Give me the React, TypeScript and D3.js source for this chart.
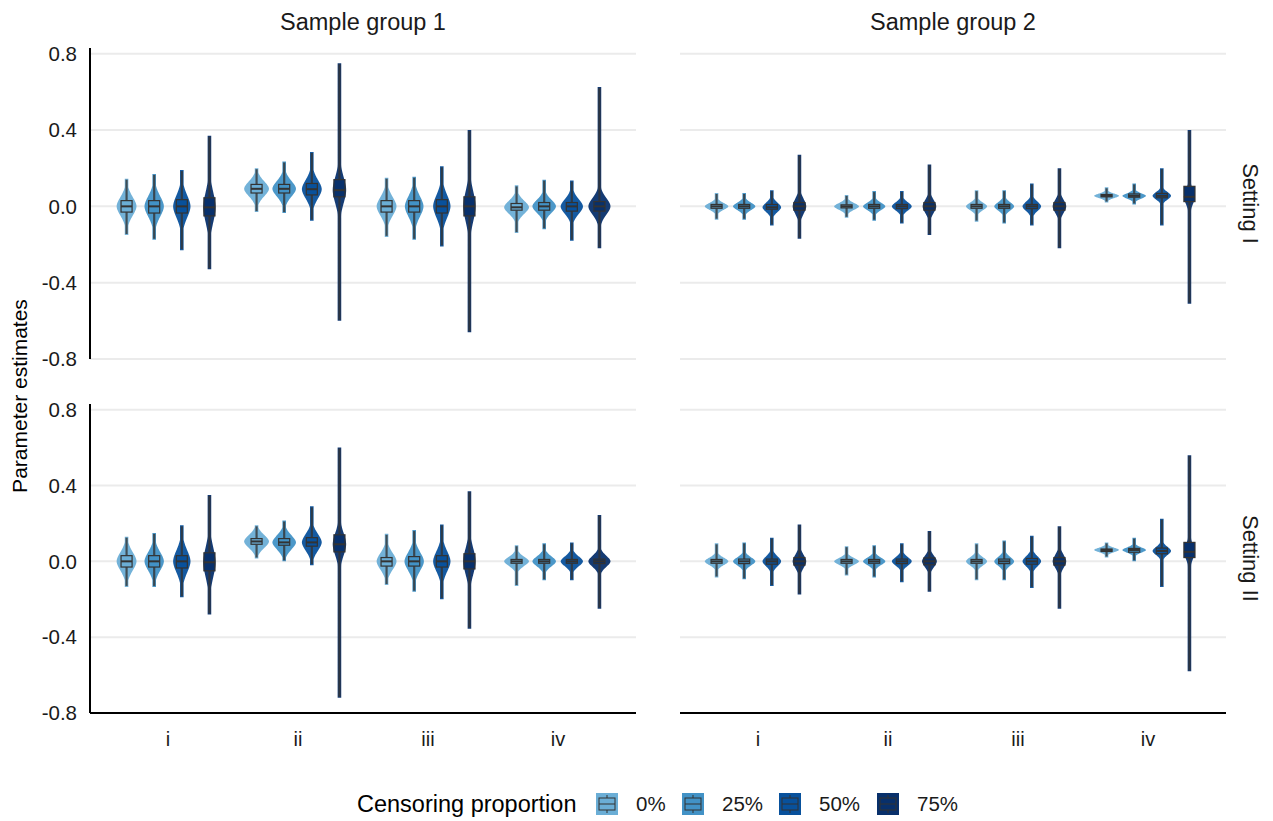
import React from 'react';
import * as d3 from 'd3';

// each violin: [median, q1, q3, low, high, spread, density]
type Stat = [number, number, number, number, number, number, number];

const categories = ['i', 'ii', 'iii', 'iv'];
const censoring = ['0%', '25%', '50%', '75%'];
const colors = ['#6baed6', '#4292c6', '#08519c', '#08306b'];
const yTicks = [-0.8, -0.4, 0, 0.4, 0.8];
const groups = ['Sample group 1', 'Sample group 2'];
const settings = ['Setting I', 'Setting II'];

const settingIGroup1: Stat[] = [
  [0, -0.03, 0.03, -0.15, 0.145, 0.05, 0.8],
  [0, -0.035, 0.03, -0.175, 0.17, 0.055, 0.78],
  [0, -0.035, 0.035, -0.23, 0.19, 0.06, 0.7],
  [-0.005, -0.05, 0.045, -0.33, 0.37, 0.08, 0.5],
  [0.092, 0.07, 0.115, -0.03, 0.2, 0.04, 1.0],
  [0.092, 0.07, 0.115, -0.035, 0.235, 0.042, 0.95],
  [0.09, 0.06, 0.12, -0.075, 0.285, 0.05, 0.8],
  [0.085, 0.05, 0.14, -0.6, 0.75, 0.07, 0.55],
  [0, -0.03, 0.03, -0.16, 0.15, 0.05, 0.8],
  [0, -0.03, 0.03, -0.175, 0.155, 0.055, 0.75],
  [0, -0.035, 0.035, -0.21, 0.21, 0.06, 0.7],
  [0, -0.05, 0.05, -0.66, 0.4, 0.08, 0.5],
  [-0.005, -0.02, 0.015, -0.14, 0.11, 0.035, 1.0],
  [0, -0.02, 0.02, -0.12, 0.14, 0.035, 0.95],
  [0, -0.025, 0.02, -0.18, 0.135, 0.04, 0.9],
  [0, -0.025, 0.025, -0.22, 0.625, 0.045, 0.9],
];

const settingIGroup2: Stat[] = [
  [0, -0.01, 0.01, -0.07, 0.07, 0.018, 0.95],
  [0, -0.01, 0.01, -0.07, 0.07, 0.02, 0.9],
  [-0.005, -0.015, 0.01, -0.1, 0.085, 0.025, 0.75],
  [0, -0.02, 0.02, -0.17, 0.27, 0.04, 0.55],
  [0, -0.008, 0.008, -0.06, 0.06, 0.018, 1],
  [0, -0.01, 0.01, -0.075, 0.08, 0.02, 0.9],
  [0, -0.012, 0.01, -0.09, 0.08, 0.022, 0.8],
  [0, -0.02, 0.02, -0.15, 0.22, 0.035, 0.55],
  [0, -0.01, 0.01, -0.08, 0.085, 0.02, 0.85],
  [0, -0.01, 0.01, -0.09, 0.085, 0.022, 0.8],
  [0, -0.012, 0.01, -0.1, 0.12, 0.025, 0.75],
  [0, -0.02, 0.02, -0.22, 0.2, 0.035, 0.55],
  [0.055, 0.05, 0.062, 0.02, 0.1, 0.012, 1],
  [0.055, 0.048, 0.065, 0.01, 0.12, 0.014, 0.95],
  [0.055, 0.045, 0.068, -0.1, 0.2, 0.02, 0.75],
  [0.05, 0.025, 0.105, -0.51, 0.4, 0.04, 0.45],
];

const settingIIGroup1: Stat[] = [
  [0, -0.03, 0.03, -0.135, 0.13, 0.05, 0.8],
  [0, -0.03, 0.03, -0.135, 0.15, 0.05, 0.78],
  [0, -0.035, 0.03, -0.19, 0.19, 0.06, 0.7],
  [-0.005, -0.05, 0.045, -0.28, 0.35, 0.08, 0.5],
  [0.105, 0.09, 0.12, 0.015, 0.19, 0.035, 1],
  [0.1, 0.085, 0.12, 0.0, 0.215, 0.038, 0.95],
  [0.1, 0.08, 0.125, -0.02, 0.29, 0.045, 0.8],
  [0.09, 0.05, 0.14, -0.72, 0.6, 0.06, 0.55],
  [0, -0.025, 0.02, -0.125, 0.145, 0.045, 0.8],
  [0, -0.025, 0.025, -0.16, 0.165, 0.05, 0.78],
  [0, -0.03, 0.03, -0.2, 0.195, 0.055, 0.7],
  [0, -0.04, 0.04, -0.355, 0.37, 0.07, 0.5],
  [0, -0.01, 0.01, -0.13, 0.085, 0.025, 1],
  [0, -0.01, 0.01, -0.1, 0.095, 0.027, 0.95],
  [0, -0.01, 0.01, -0.1, 0.1, 0.027, 0.9],
  [0, -0.012, 0.012, -0.25, 0.245, 0.03, 0.9],
];

const settingIIGroup2: Stat[] = [
  [0, -0.01, 0.01, -0.085, 0.095, 0.02, 0.95],
  [0, -0.012, 0.012, -0.095, 0.1, 0.022, 0.9],
  [0, -0.015, 0.012, -0.13, 0.125, 0.027, 0.75],
  [0, -0.02, 0.02, -0.175, 0.195, 0.035, 0.55],
  [0, -0.01, 0.01, -0.075, 0.08, 0.018, 1],
  [0, -0.01, 0.01, -0.085, 0.085, 0.02, 0.9],
  [0, -0.012, 0.012, -0.11, 0.095, 0.023, 0.8],
  [0, -0.018, 0.018, -0.16, 0.16, 0.03, 0.6],
  [0, -0.01, 0.01, -0.1, 0.095, 0.022, 0.85],
  [0, -0.012, 0.012, -0.1, 0.11, 0.024, 0.8],
  [0, -0.015, 0.015, -0.14, 0.135, 0.027, 0.75],
  [0, -0.02, 0.02, -0.25, 0.185, 0.035, 0.55],
  [0.06, 0.052, 0.065, 0.02, 0.1, 0.012, 1],
  [0.06, 0.048, 0.068, 0.0, 0.125, 0.014, 0.95],
  [0.055, 0.04, 0.07, -0.135, 0.225, 0.022, 0.75],
  [0.05, 0.02, 0.1, -0.58, 0.56, 0.04, 0.45],
];

const panelData = [
  [settingIGroup1, settingIGroup2],
  [settingIIGroup1, settingIIGroup2],
];

const W = 1273;
const H = 821;
const font = '"Liberation Sans", Arial, Helvetica, sans-serif';
const colX = [
  [90, 636],
  [680, 1226],
];
const rowY = [
  [48, 359],
  [404, 713],
];

const Violin = ({ s, cx, y, band, color }: { s: Stat; cx: number; y: d3.ScaleLinear<number, number>; band: number; color: string }) => {
  const [med, q1, q3, lo, hi, sd, dens] = s;
  const maxHW = band * 0.45;
  const vals = d3.range(0, 81).map((k) => lo + ((hi - lo) * k) / 80);
  const hw = (v: number) => Math.max(1.8, dens * maxHW * Math.exp(-0.5 * Math.pow(Math.abs((v - med) / sd), 1.8)));
  const area = d3
    .area<number>()
    .y((v) => y(v))
    .x0((v) => cx - hw(v))
    .x1((v) => cx + hw(v))
    .curve(d3.curveBasis);
  const bw = band * 0.4;
  return (
    <g>
      <path d={area(vals) || ''} fill={color} opacity={0.95} />
      <line x1={cx} x2={cx} y1={y(hi) + 1} y2={y(q3)} stroke="#333" strokeWidth={2.2} strokeOpacity={0.8} />
      <line x1={cx} x2={cx} y1={y(q1)} y2={y(lo) - 1} stroke="#333" strokeWidth={2.2} strokeOpacity={0.8} />
      <rect x={cx - bw / 2} y={y(q3)} width={bw} height={Math.max(1, y(q1) - y(q3))} fill={color} stroke="#333" strokeWidth={1.2} />
      <line x1={cx - bw / 2} x2={cx + bw / 2} y1={y(med)} y2={y(med)} stroke="#333" strokeWidth={2} />
    </g>
  );
};

export default function App() {
  return (
    <svg width={W} height={H} style={{ position: 'absolute', left: 0, top: 0, fontFamily: font }}>
      <rect width={W} height={H} fill="#fff" />
      {rowY.map((ry, r) =>
        colX.map((cxr, c) => {
          const y = d3.scaleLinear().domain([-0.8, 0.83]).range([ry[1], ry[0]]);
          const x = d3.scalePoint<string>().domain(categories).range(cxr).padding(0.6);
          const step = x.step();
          const dodge = d3.scaleBand<string>().domain(censoring).range([-step * 0.425, step * 0.425]);
          const data = panelData[r][c];
          return (
            <g key={`${r}-${c}`}>
              {yTicks.map((t) => (
                <line key={t} x1={cxr[0]} x2={cxr[1]} y1={y(t)} y2={y(t)} stroke="#ebebeb" strokeWidth={2} />
              ))}
              {categories.map((cat, ci) =>
                censoring.map((cen, k) => (
                  <Violin
                    key={cat + cen}
                    s={data[ci * 4 + k]}
                    cx={(x(cat) as number) + (dodge(cen) as number) + dodge.bandwidth() / 2}
                    y={y}
                    band={dodge.bandwidth()}
                    color={colors[k]}
                  />
                ))
              )}
              {c === 0 && (
                <g>
                  <line x1={cxr[0]} x2={cxr[0]} y1={ry[0]} y2={ry[1]} stroke="#000" strokeWidth={2} />
                  {yTicks.map((t) => (
                    <text key={t} x={cxr[0] - 13} y={y(t)} dy="0.35em" textAnchor="end" fontSize={20.5} fill="#1a1a1a">
                      {t.toFixed(1)}
                    </text>
                  ))}
                </g>
              )}
              {r === 1 && (
                <g>
                  <line x1={cxr[0]} x2={cxr[1]} y1={ry[1]} y2={ry[1]} stroke="#000" strokeWidth={2} />
                  {categories.map((cat) => (
                    <text key={cat} x={x(cat)} y={ry[1] + 26} dy="0.35em" textAnchor="middle" fontSize={20} fill="#1a1a1a">
                      {cat}
                    </text>
                  ))}
                </g>
              )}
              {r === 0 && (
                <text x={(cxr[0] + cxr[1]) / 2} y={22} dy="0.35em" textAnchor="middle" fontSize={23.5} fill="#1a1a1a">
                  {groups[c]}
                </text>
              )}
              {c === 1 && (
                <text
                  transform={`translate(1251,${(ry[0] + ry[1]) / 2}) rotate(90)`}
                  dy="0.35em"
                  textAnchor="middle"
                  fontSize={22}
                  fill="#1a1a1a"
                >
                  {settings[r]}
                </text>
              )}
            </g>
          );
        })
      )}
      <text transform="translate(20,396) rotate(-90)" dy="0.35em" textAnchor="middle" fontSize={21} fill="#000">
        Parameter estimates
      </text>
      <g>
        <text x={357} y={804} dy="0.35em" fontSize={23.5} fill="#000">
          Censoring proportion
        </text>
        {censoring.map((cen, k) => {
          const kx = [596, 682, 779, 877][k];
          return (
            <g key={cen}>
              <rect x={kx} y={793} width={22} height={22} fill={colors[k]} />
              <line x1={kx + 11} x2={kx + 11} y1={795} y2={813} stroke="#333" strokeWidth={1} />
              <rect x={kx + 3} y={798} width={16} height={12} fill={colors[k]} stroke="#333" strokeWidth={1} />
              <line x1={kx + 3} x2={kx + 19} y1={804} y2={804} stroke="#333" strokeWidth={1} />
              <text x={kx + 40} y={804} dy="0.35em" fontSize={20.5} fill="#1a1a1a">
                {cen}
              </text>
            </g>
          );
        })}
      </g>
    </svg>
  );
}
